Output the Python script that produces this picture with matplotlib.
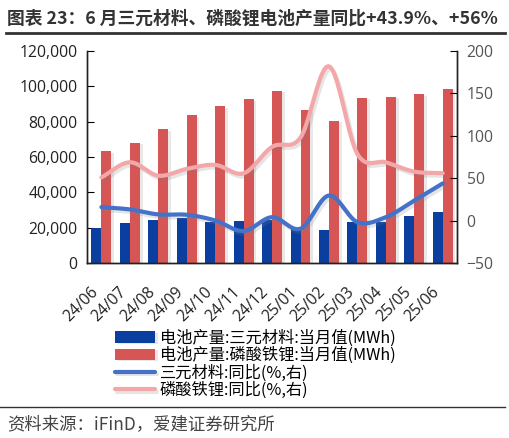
import numpy as np
import matplotlib
matplotlib.use("Agg")
import matplotlib.pyplot as plt
import matplotlib.patheffects as pe
from matplotlib.ticker import FuncFormatter

plt.rcParams['font.family'] = ['Noto Sans CJK SC', 'DejaVu Sans']

categories = ["24/06", "24/07", "24/08", "24/09", "24/10", "24/11", "24/12",
              "25/01", "25/02", "25/03", "25/04", "25/05", "25/06"]
ternary_output = [20000, 22600, 24300, 25600, 23100, 23700, 24500,
                  19400, 18800, 23500, 23000, 26500, 29000]
lfp_output = [63200, 68100, 75600, 83700, 88800, 92700, 97400,
              86500, 80500, 93600, 94200, 95500, 98700]
ternary_yoy = [15.9, 13.2, 7.3, 6.9, 0.2, -12.3, 4.1, -9.5, 29.6, -1.8, 4.1, 23.7, 43.9]
lfp_yoy = [51, 68.8, 53, 61, 65.7, 55.8, 87, 98, 182, 78.6, 68.8, 57.8, 56]

title = "图表 23：6 月三元材料、磷酸锂电池产量同比+43.9%、+56%"
legend_labels = ["电池产量:三元材料:当月值(MWh)", "电池产量:磷酸铁锂:当月值(MWh)",
                 "三元材料:同比(%,右)", "磷酸铁锂:同比(%,右)"]
source = "资料来源：iFinD，爱建证券研究所"

c_blue_bar = "#0A3FA0"
c_red_bar = "#D65555"
c_blue_line = "#4472C8"
c_pink_line = "#F4A7A9"


def smooth(x, y, n=20):
    # Catmull-Rom display smoothing through the data points
    x = np.asarray(x, float); y = np.asarray(y, float)
    px = np.concatenate([[2 * x[0] - x[1]], x, [2 * x[-1] - x[-2]]])
    py = np.concatenate([[2 * y[0] - y[1]], y, [2 * y[-1] - y[-2]]])
    xs, ys = [], []
    for i in range(1, len(px) - 2):
        t = np.linspace(0, 1, n, endpoint=False)
        for arr, out in ((px, xs), (py, ys)):
            p0, p1, p2, p3 = arr[i - 1], arr[i], arr[i + 1], arr[i + 2]
            out.append(0.5 * ((2 * p1) + (-p0 + p2) * t + (2 * p0 - 5 * p1 + 4 * p2 - p3) * t ** 2
                              + (-p0 + 3 * p1 - 3 * p2 + p3) * t ** 3))
    xs.append([x[-1]]); ys.append([y[-1]])
    return np.concatenate(xs), np.concatenate(ys)


fig = plt.figure(figsize=(5.1, 4.38), dpi=100)
ax = fig.add_axes([0.171, 0.3995, 0.725, 0.484])
ax2 = ax.twinx()

x = np.arange(len(categories))
w = 0.35
shadow = [pe.SimplePatchShadow(offset=(2.0, -1), alpha=0.18, shadow_rgbFace='gray'), pe.Normal()]
b1 = ax.bar(x - w / 2, ternary_output, w, color=c_blue_bar, label=legend_labels[0], zorder=2)
b2 = ax.bar(x + w / 2, lfp_output, w, color=c_red_bar, label=legend_labels[1], zorder=2)
for p in list(b1) + list(b2):
    p.set_path_effects(shadow)

lshadow = [pe.SimpleLineShadow(offset=(1.5, -2), alpha=0.2, shadow_color='gray'), pe.Normal()]
sx, sy = smooth(x, ternary_yoy)
l1, = ax2.plot(sx, sy, color=c_blue_line, lw=3, label=legend_labels[2], path_effects=lshadow,
               solid_capstyle='round')
sx, sy = smooth(x, lfp_yoy)
l2, = ax2.plot(sx, sy, color=c_pink_line, lw=3, label=legend_labels[3], path_effects=lshadow,
               solid_capstyle='round')

ax.set_xlim(-0.5, len(categories) - 0.5)
ax.set_ylim(0, 120000)
ax.set_yticks(np.arange(0, 120001, 20000))
ax.yaxis.set_major_formatter(FuncFormatter(lambda v, p: f"{int(v):,}"))
ax2.set_ylim(-50, 200)
ax2.set_yticks(np.arange(-50, 201, 50))

ax.set_xticks(x)
ax.set_xticklabels(categories, rotation=45, ha='right', va='top')
ax.tick_params(axis='x', length=0, pad=15, labelcolor='#222222')
ax.tick_params(axis='y', direction='in', length=5, labelcolor='#222222', pad=7)
ax2.tick_params(axis='y', direction='in', length=5, labelcolor='#555555', pad=7)
for lab in ax.get_xticklabels() + ax.get_yticklabels() + ax2.get_yticklabels():
    lab.set_fontfamily(['Open Sans', 'DejaVu Sans'])
    lab.set_fontsize(11.3)
for a in (ax, ax2):
    a.spines['top'].set_visible(False)
    for s in a.spines.values():
        s.set_color('#222222')
        s.set_linewidth(1)
ax.set_zorder(1)
ax2.set_zorder(2)
ax.patch.set_visible(False)

fig.legend(handles=[b1, b2, l1, l2], labels=legend_labels, loc='upper left',
           bbox_to_anchor=(0.21, 0.266), ncol=1, frameon=False, fontsize=11.7,
           handlelength=2.45, handletextpad=0.3, labelspacing=0.0, borderpad=0)

fig.text(0.014, 0.958, title, fontsize=12.8, fontweight='bold', color='#333333', va='center')
fig.add_artist(plt.Line2D([0.012, 0.99], [0.925, 0.925], color='#333333', lw=2))
fig.add_artist(plt.Line2D([0.0, 0.99], [0.07, 0.07], color='#333333', lw=1))
fig.text(0.014, 0.032, source, fontsize=12.5, fontweight='light', color='#444444', va='center')

fig.savefig("out.png", dpi=100)
